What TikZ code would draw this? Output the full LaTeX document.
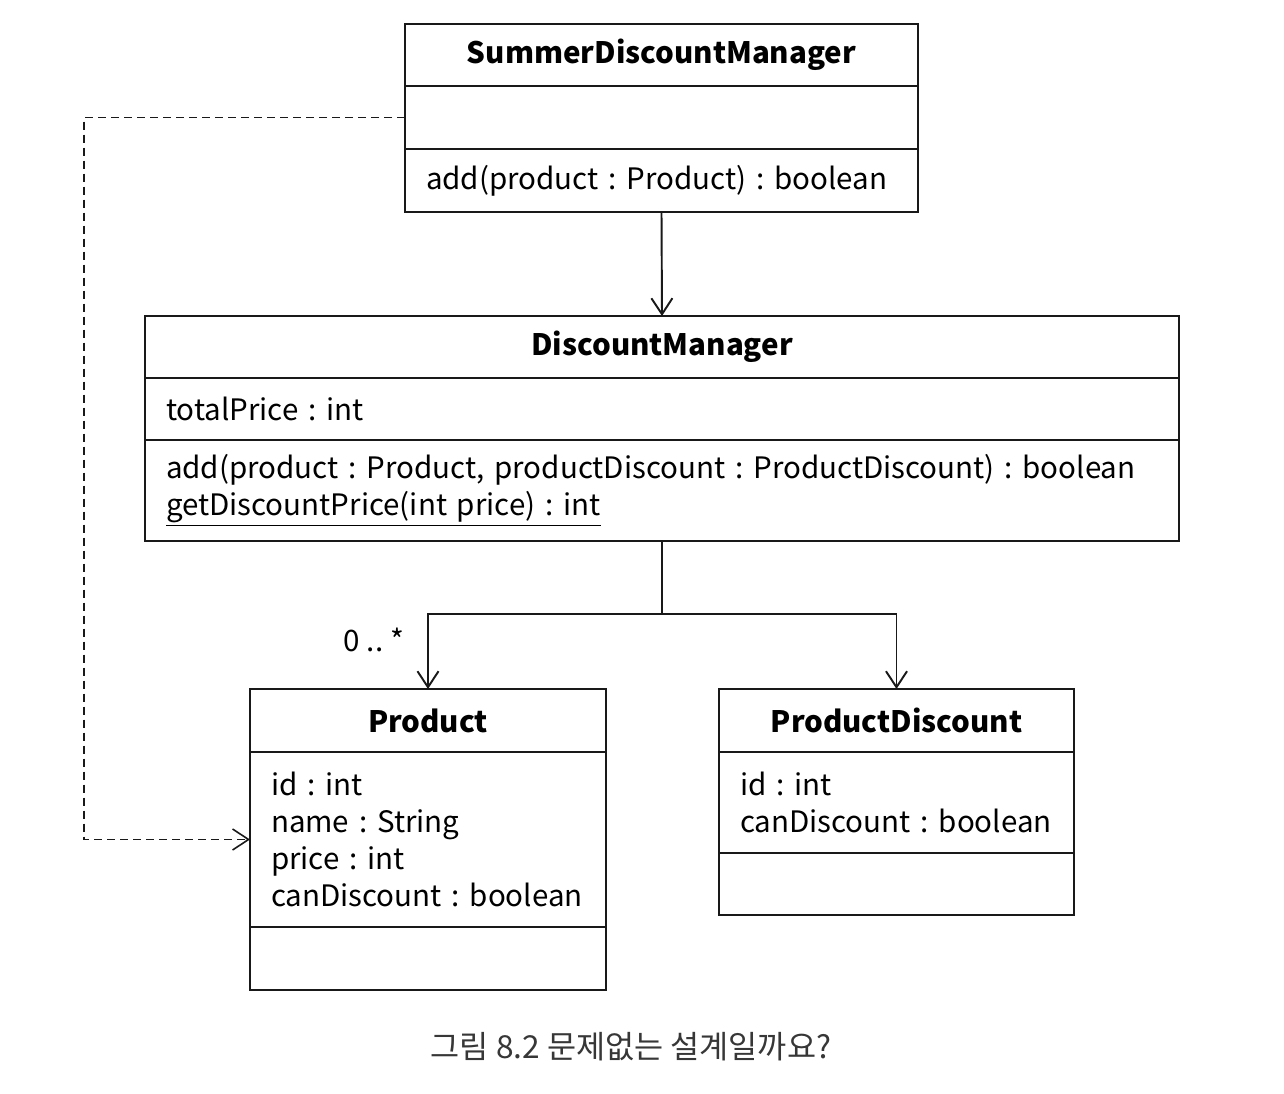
\documentclass[tikz,border=0pt]{standalone}
\usepackage{fontspec}
\setmainfont{Noto Sans CJK KR}
\usepackage{tikz}
\usetikzlibrary{arrows.meta, positioning, calc}
\definecolor{linegray}{RGB}{25, 25, 25}
\definecolor{captiongray}{RGB}{55, 55, 55}
\frenchspacing

\tikzset{
    cls/.style={draw=linegray, line width=1.1pt, inner ysep=0pt, inner xsep=0.42cm, outer sep=0pt,
                anchor=north west, font=\fontsize{16.8}{21}\selectfont},
    clsname/.style={cls, font=\fontsize{16.8}{21}\selectfont\bfseries, align=center},
    clsbody/.style={cls, align=left},
    assoc/.style={draw=linegray, line width=1.1pt, -{Straight Barb[length=0.32cm, width=0.42cm]}},
    dep/.style={draw=linegray, line width=0.9pt, dash pattern=on 0.16cm off 0.1cm,
                -{Straight Barb[length=0.32cm, width=0.42cm]}}
}

\begin{document}
\begin{tikzpicture}
    \useasboundingbox (0,0) rectangle (25.68,-21.88);

    % SummerDiscountManager
    \node[clsname, minimum width=10.26cm, minimum height=1.24cm] (sdm) at (8.10,-0.48) {SummerDiscountManager};
    \node[clsbody, text width=9.42cm, minimum height=1.26cm] (sdm attr) at (sdm.south west) {};
    \node[clsbody, text width=9.42cm, minimum height=1.26cm] (sdm ops) at (sdm attr.south west) {add(product : Product) : boolean};

    % DiscountManager
    \node[clsname, minimum width=20.68cm, minimum height=1.24cm] (dm) at (2.90,-6.32) {DiscountManager};
    \node[clsbody, text width=19.84cm, minimum height=1.24cm] (dm attr) at (dm.south west) {totalPrice : int};
    \node[clsbody, text width=19.84cm, minimum height=2.02cm] (dm ops) at (dm attr.south west)
        {add(product : Product, productDiscount : ProductDiscount) : boolean\\
         \underline{getDiscountPrice(int price) : int}};

    % Product
    \node[clsname, minimum width=7.12cm, minimum height=1.26cm] (prod) at (5.00,-13.78) {Product};
    \node[clsbody, text width=6.28cm, minimum height=3.50cm] (prod attr) at (prod.south west)
        {id : int\\ name : String\\ price : int\\ canDiscount : boolean};
    \node[clsbody, text width=6.28cm, minimum height=1.26cm] (prod ops) at (prod attr.south west) {};

    % ProductDiscount
    \node[clsname, minimum width=7.10cm, minimum height=1.26cm] (pd) at (14.38,-13.78) {ProductDiscount};
    \node[clsbody, text width=6.26cm, minimum height=2.02cm] (pd attr) at (pd.south west)
        {id : int\\ canDiscount : boolean};
    \node[clsbody, text width=6.26cm, minimum height=1.24cm] (pd ops) at (pd attr.south west) {};

    % connectors
    \draw[assoc] (sdm ops.south) -- (dm.north);
    \coordinate (split) at ($(dm ops.south)+(0,-1.46)$);
    \draw[draw=linegray, line width=1.1pt] (dm ops.south) -- (split);
    \draw[assoc] (split) -| (prod.north);
    \draw[assoc] (split) -| (pd.north);
    \node[font=\fontsize{16.8}{21}\selectfont, anchor=east] (mult) at ($(prod.north)+(-0.36,0.98)$) {0 .. *};

    \coordinate (bendx) at (1.68,0);
    \draw[dep] (sdm attr.west) -- (sdm attr.west -| bendx) |- (prod attr.west);

    % caption
    \node[text=captiongray, font=\fontsize{18}{21}\selectfont] (caption) at (12.62,-20.94)
        {그림 8.2 문제없는 설계일까요?};
\end{tikzpicture}
\end{document}
